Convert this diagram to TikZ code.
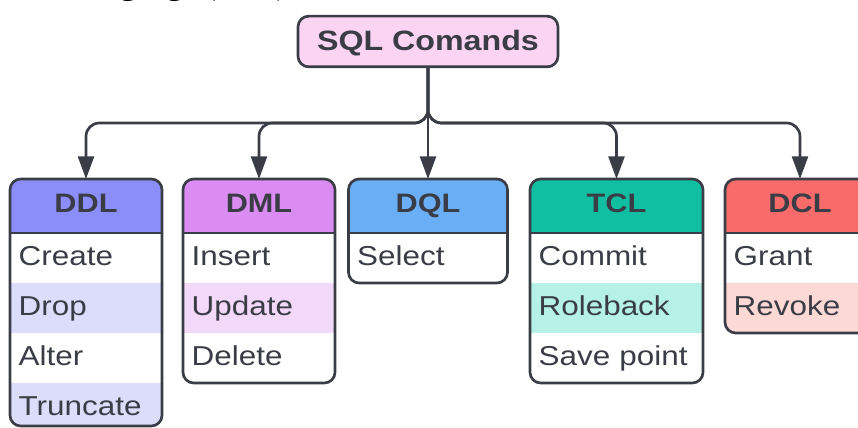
\documentclass[tikz,border=0pt]{standalone}
\usepackage{fontspec}
\setmainfont[FakeStretch=1.15]{Liberation Sans}
\newfontfamily\docfont[FakeStretch=1.15]{Liberation Serif}
\usetikzlibrary{arrows.meta,positioning}

\definecolor{ink}{HTML}{3A3D46}
\definecolor{sqlpink}{HTML}{FBD3F3}
\definecolor{head-ddl}{HTML}{8B8DF8}
\definecolor{row-ddl}{HTML}{DCDDFB}
\definecolor{head-dml}{HTML}{DB8CF2}
\definecolor{row-dml}{HTML}{F2D8F9}
\definecolor{head-dql}{HTML}{6AAEF6}
\definecolor{row-dql}{HTML}{DCEBFD}
\definecolor{head-tcl}{HTML}{10BFA2}
\definecolor{row-tcl}{HTML}{B5F1E6}
\definecolor{head-dcl}{HTML}{F76C6B}
\definecolor{row-dcl}{HTML}{FCD9D5}

\tikzset{
  topbox/.style={draw=ink,fill=sqlpink,line width=2pt,rounded corners=8pt,
    minimum width=195pt,minimum height=38pt,inner sep=0pt,text=ink,
    font=\fontsize{21}{24}\selectfont\bfseries,text height=15pt,text depth=2.2pt},
  headbox/.style={minimum height=40.5pt,outer sep=0pt,inner sep=0pt,text=ink,
    font=\fontsize{20}{23}\selectfont\bfseries,text height=13.5pt,text depth=4.5pt},
  rowbox/.style={minimum height=37.5pt,outer sep=0pt,inner xsep=6.5pt,inner ysep=0pt,
    align=left,text=ink,font=\fontsize{20.5}{23}\selectfont,
    text height=15.25pt,text depth=4.75pt},
  frame/.style={draw=ink,line width=2pt,rounded corners=8pt},
  conn/.style={draw=ink,line width=2pt,rounded corners=10pt,
    -{Triangle[length=17pt,width=12pt]}},
}

\begin{document}
\begin{tikzpicture}[x=0.75pt,y=-0.75pt]
 \useasboundingbox (0,0) rectangle (858,428);
 \clip (0,0) rectangle (858,428);
 \node[anchor=base east,font=\docfont\fontsize{21}{24}\selectfont] (doc) at (292,-4.5)
   {Language (SQL)};
 \node[topbox] (sql) at (428,41.5) {SQL Comands};
 % one box per command group: name/x/width/rows/cut/title/items
 \foreach \n/\x/\w/\k/\cut/\t/\items in {
    ddl/86/152/4/7/DDL/{Create,Drop,Alter,Truncate},
    dml/259/152/3/0/DML/{Insert,Update,Delete},
    dql/428/159/1/0/DQL/{Select},
    tcl/616.5/173/3/0/TCL/{Commit,Roleback,Save point},
    dcl/800/150/2/0/DCL/{Grant,Revoke}}{
   \pgfmathsetmacro\xl{\x-\w/2}
   \pgfmathsetmacro\xr{\x+\w/2}
   \pgfmathsetmacro\yb{233+50*\k-\cut}
   \pgfmathsetmacro\tw{\w*0.75-13}
   \begin{scope}
     \clip[rounded corners=8pt] (\xl,179) rectangle (\xr,\yb);
     \fill[white] (\xl,179) rectangle (\xr,\yb);
     \fill[head-\n] (\xl,179) rectangle (\xr,233);
     \foreach \i in {1,...,\k}{\ifodd\i\else
       \fill[row-\n] (\xl,{183+50*\i}) rectangle (\xr,{233+50*\i});\fi}
   \end{scope}
   \node[headbox,minimum width=\w*0.75pt,alias=\n-0] (\n) at (\x,206) {\t};
   \foreach \it [count=\i] in \items{
     \pgfmathtruncatemacro\j{\i-1}
     \node[rowbox,minimum width=\w*0.75pt,text width=\tw pt,below=0pt of \n-\j] (\n-\i) {\it};
   }
   \draw[frame] (\n.north west) rectangle ([yshift=\cut*0.75pt]\n-\k.south east);
   \draw[ink,line width=2pt] (\n.south west) -- (\n.south east);
 }
 \coordinate (split) at (428,123);
 \draw[conn] (sql.south) -- (split) -| (ddl.north);
 \draw[conn] (sql.south) -- (split) -| (dml.north);
 \draw[conn] (sql.south) -- (dql.north);
 \draw[conn] (sql.south) -- (split) -| (tcl.north);
 \draw[conn] (sql.south) -- (split) -| (dcl.north);
\end{tikzpicture}
\end{document}
